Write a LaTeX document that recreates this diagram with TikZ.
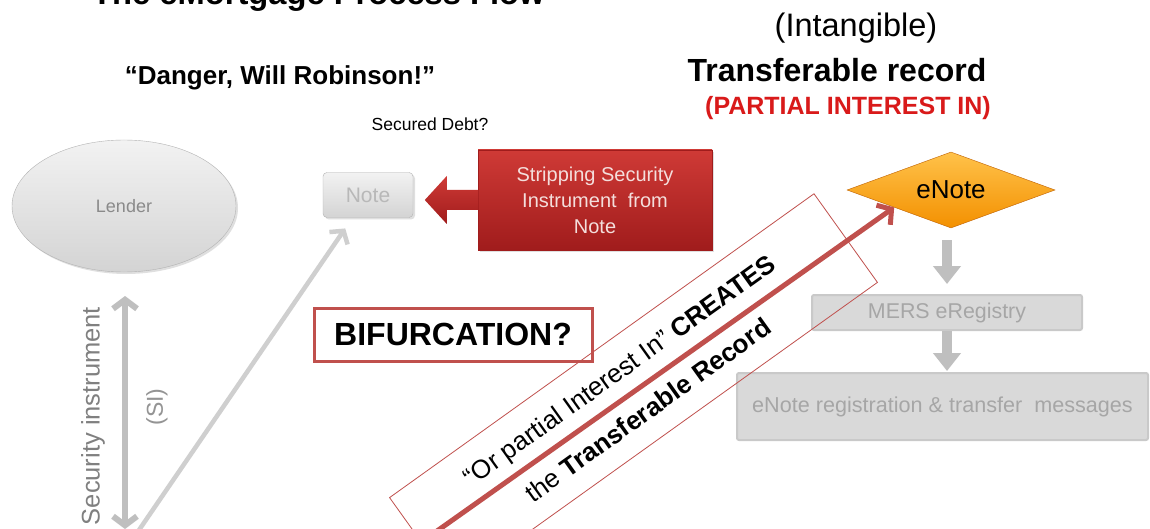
\documentclass[tikz,border=0pt]{standalone}
\usepackage{fontspec}
\setmainfont{Liberation Sans}
\usetikzlibrary{arrows.meta,shapes.geometric,shadows,calc}

\definecolor{brick}{HTML}{C0504D}
\definecolor{alertred}{HTML}{D91A1A}
\definecolor{stripTop}{HTML}{CF3A36}
\definecolor{stripBot}{HTML}{A01C1C}
\definecolor{stripText}{HTML}{F4DEDC}
\definecolor{orangeTop}{HTML}{FFC24A}
\definecolor{orangeBot}{HTML}{F39000}

\newcommand{\fsz}[1]{\fontsize{#1pt}{#1pt}\selectfont}

\begin{document}
\begin{tikzpicture}[x=1pt,y=-1pt,
  softshadow/.style={drop shadow={opacity=0.25,shadow xshift=2pt,shadow yshift=-2pt}},
  graynode/.style={draw=black!30,top color=black!5,bottom color=black!17,softshadow},
  flatbox/.style={rectangle,rounded corners=2pt,draw=black!21,line width=2pt,fill=black!15,text=black!35},
  flowarrow/.style={draw=black!25,line width=10pt,-{Triangle[width=27pt,length=18pt]}},
  thinarrow/.style={draw=black!19,line width=4.5pt,-{Straight Barb[length=9pt,width=22pt]}},
  siarrow/.style={draw=black!25,line width=6pt,{Straight Barb[length=9pt,width=24pt]}-{Straight Barb[length=9pt,width=24pt]}},
  redarrow/.style={draw=brick,line width=5pt,-{Straight Barb[length=10pt,width=24pt]}}]

\useasboundingbox (0,0) rectangle (1150,529);
\clip (0,0) rectangle (1150,529);
\fill[white] (0,0) rectangle (1150,529);

% headings
\node[anchor=base west,inner sep=0pt,font=\fsz{32.7}\bfseries] (title) at (92,4.5) {The eMortgage Process Flow};
\node[font=\fsz{32.5}] (intang) at (856,28) {(Intangible)};
\node[font=\fsz{32}\bfseries] (transrec) at (837,70) {Transferable record};
\node[font=\fsz{25}\bfseries,text=alertred] (partial) at (848,108) {(PARTIAL INTEREST IN)};
\node[font=\fsz{26}\bfseries] (danger) at (280,78) {“Danger, Will Robinson!”};
\node[font=\fsz{17.5}] (secured) at (430,124) {Secured Debt?};

% parties and documents
\node[ellipse,graynode,minimum width=224pt,minimum height=132pt,font=\fsz{18},text=black!46] (lender) at (124,206) {Lender};
\node[graynode,rounded corners=4pt,minimum width=90pt,minimum height=45pt,font=\fsz{21},text=black!28] (note) at (368,195) {Note};

\node[draw=stripBot,top color=stripTop,bottom color=stripBot,softshadow,minimum width=234pt,minimum height=100pt,
      align=center,text=stripText,font=\fontsize{20pt}{26pt}\selectfont] (strip) at (595,200)
      {Stripping Security\\Instrument~ from\\Note};

\node[diamond,inner sep=0pt,aspect=2.74,minimum width=208pt,minimum height=76pt,draw=orange!75!black,
      top color=orangeTop,bottom color=orangeBot,font=\fsz{26}] (enote) at (951,190) {eNote};

\node[flatbox,minimum width=270pt,minimum height=35pt,font=\fsz{21.4}] (mers) at (947,312.5) {MERS eRegistry};
\node[flatbox,minimum width=411pt,minimum height=67pt,font=\fsz{21.6}] (reg) at (942.5,406.5)
      {eNote registration \& transfer~ messages};

\node[draw=brick,line width=3pt,fill=white,minimum width=278pt,minimum height=53pt,font=\fsz{32}\bfseries] (bif) at (453,334.5) {BIFURCATION?};

% block arrow from the stripping box to the note
\path[top color=stripTop,bottom color=stripBot]
  ($(strip.west)+(0.5,-10)$) -- ($(strip.west)+(-31,-10)$) -- ($(strip.west)+(-31,-24)$)
  -- ($(strip.west)+(-53,0)$) -- ($(strip.west)+(-31,24)$) -- ($(strip.west)+(-31,10)$)
  -- ($(strip.west)+(0.5,10)$) -- cycle;

% flow down the registry
\draw[flowarrow,shorten <=12pt,shorten >=10pt] (mers.north |- enote.south) -- (mers.north);
\draw[flowarrow,shorten >=1pt] (mers.south) -- (mers.south |- reg.north);

% security instrument and note
\coordinate (sitop) at (125,296);
\coordinate (sibot) at (125,529);
\draw[siarrow] (sitop) -- (sibot);
\node[rotate=90,font=\fsz{25.5},text=black!50] (sitext) at (93,416) {Security instrument};
\node[rotate=90,font=\fsz{23},text=black!42] (si) at (157,407) {(SI)};

\coordinate (notefoot) at (137,533);
\draw[thinarrow,shorten >=13pt] (notefoot) -- (note);

% transferable record band
\node[draw=brick,line width=0.8pt,rotate=35.6,minimum width=522pt,minimum height=109pt,align=center,
      font=\fontsize{26pt}{49pt}\selectfont] (band) at (633.5,390)
      {“Or partial Interest In” \textbf{CREATES}\\the \textbf{Transferable Record}};
\coordinate (recfoot) at (437,531);
\draw[redarrow] (recfoot) -- (enote.197);

\end{tikzpicture}
\end{document}
